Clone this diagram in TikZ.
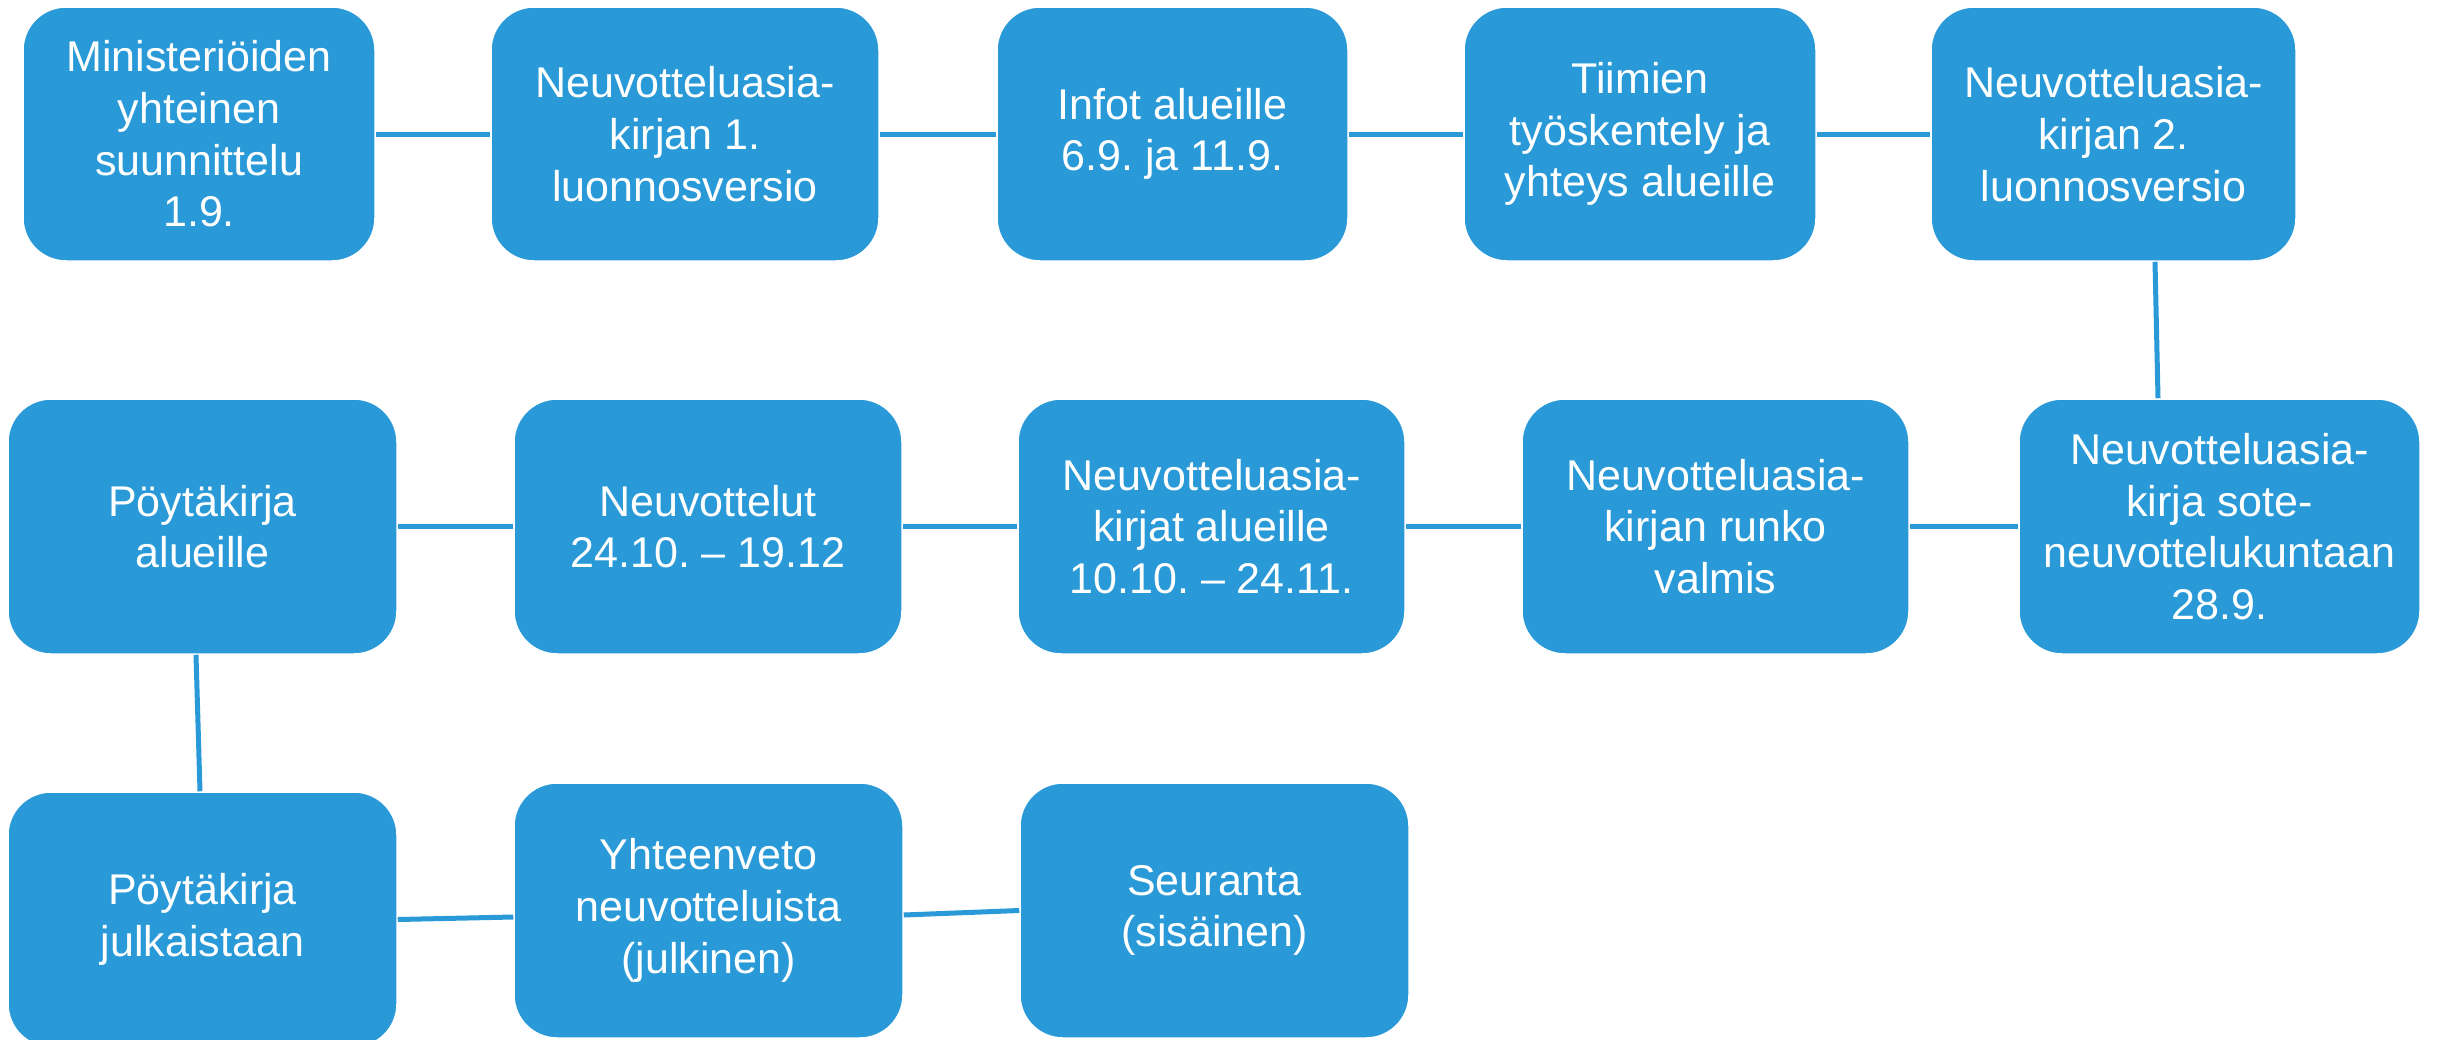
\documentclass[tikz,border=0pt]{standalone}
\usepackage{fontspec}
\setmainfont{Liberation Sans}
\frenchspacing
\definecolor{boxblue}{RGB}{41,154,215}
\begin{document}
\begin{tikzpicture}[x=1pt,y=-1pt,
  stepbox/.style={draw=white, line width=1.5pt, fill=boxblue, rounded corners=43pt,
    text=white, align=center, inner sep=0pt, anchor=center,
    font=\fontsize{43}{51.7}\selectfont},
  link/.style={draw=boxblue, line width=5pt}]
\useasboundingbox (0,0) rectangle (2455,1039);
% row 1
\node[stepbox, minimum width=352pt, minimum height=254pt] (b1) at (199,134) {Ministeriöiden\\yhteinen\\suunnittelu\\1.9.};
\node[stepbox, minimum width=388pt, minimum height=254pt] (b2) at (685,134) {Neuvotteluasia-\\kirjan 1.\\luonnosversio};
\node[stepbox, minimum width=351pt, minimum height=254pt] (b3) at (1172.5,134) {Infot alueille\\6.9. ja 11.9.};
\node[stepbox, minimum width=352pt, minimum height=254pt] (b4) at (1640,134) {Tiimien\\työskentely ja\\yhteys alueille};
\node[stepbox, minimum width=365pt, minimum height=254pt] (b5) at (2113.5,134) {Neuvotteluasia-\\kirjan 2.\\luonnosversio};
% row 2
\node[stepbox, minimum width=389pt, minimum height=255pt] (b6) at (202.5,526.5) {Pöytäkirja\\alueille};
\node[stepbox, minimum width=388pt, minimum height=255pt] (b7) at (708,526.5) {Neuvottelut\\24.10. – 19.12};
\node[stepbox, minimum width=387pt, minimum height=255pt] (b8) at (1211.5,526.5) {Neuvotteluasia-\\kirjat alueille\\10.10. – 24.11.};
\node[stepbox, minimum width=387pt, minimum height=255pt] (b9) at (1715.5,526.5) {Neuvotteluasia-\\kirjan runko\\valmis};
\node[stepbox, minimum width=401pt, minimum height=255pt] (b10) at (2219.5,526.5) {Neuvotteluasia-\\kirja sote-\\neuvottelukuntaan\\28.9.};
% row 3
\node[stepbox, minimum width=389pt, minimum height=255pt] (b11) at (202.5,919.5) {Pöytäkirja\\julkaistaan};
\node[stepbox, minimum width=389pt, minimum height=255pt] (b12) at (708.5,910.5) {Yhteenveto\\neuvotteluista\\(julkinen)};
\node[stepbox, minimum width=389pt, minimum height=255pt] (b13) at (1214.5,910.5) {Seuranta\\(sisäinen)};
% connectors
\draw[link] (b1.east) -- (b2.west);
\draw[link] (b2.east) -- (b3.west);
\draw[link] (b3.east) -- (b4.west);
\draw[link] (b4.east) -- (b5.west);
\draw[link] ([xshift=41.5pt]b5.south) -- ([xshift=-61.5pt]b10.north);
\draw[link] (b10.west) -- (b9.east);
\draw[link] (b9.west) -- (b8.east);
\draw[link] (b8.west) -- (b7.east);
\draw[link] (b7.west) -- (b6.east);
\draw[link] ([xshift=-6.5pt]b6.south) -- ([xshift=-2.5pt]b11.north);
\draw[link] (b11.east) -- ([yshift=-6.5pt]b12.west);
\draw[link] ([yshift=-4.5pt]b12.east) -- (b13.west);
\end{tikzpicture}
\end{document}
